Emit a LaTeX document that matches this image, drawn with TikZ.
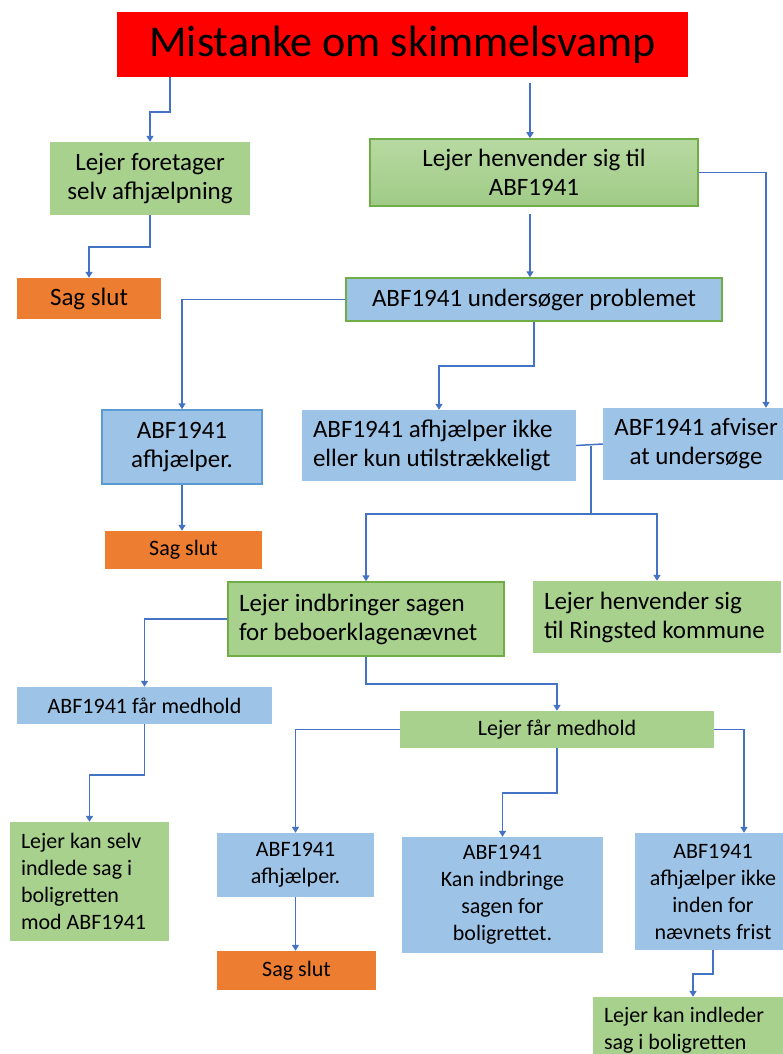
\documentclass[tikz,border=0pt]{standalone}
\usepackage{fontspec}
\setmainfont{Carlito}
\usetikzlibrary{arrows.meta}
\definecolor{boxred}{HTML}{FF0000}
\definecolor{boxgreen}{HTML}{A9D18E}
\definecolor{lightgreen}{HTML}{B7D9A2}
\definecolor{darkgreen}{HTML}{A0CB86}
\definecolor{edgegreen}{HTML}{70AD47}
\definecolor{boxblue}{HTML}{9DC3E6}
\definecolor{edgeblue}{HTML}{5B9BD5}
\definecolor{boxorange}{HTML}{ED7D31}
\definecolor{linkblue}{HTML}{4472C4}
\tikzset{
  big/.style={font=\fontsize{25}{29}\selectfont},
  small/.style={font=\fontsize{22}{27}\selectfont},
  wh/.style 2 args={minimum width=#1pt,minimum height=#2pt},
  gbox/.style={fill=boxgreen,inner sep=0pt,align=center},
  bbox/.style={fill=boxblue,inner sep=0pt,align=center},
  obox/.style={fill=boxorange,inner sep=0pt,align=center},
  leftbox/.style={align=flush left,inner xsep=11pt,text width=#1pt},
  conn/.style={linkblue,line width=1.5pt,-{Triangle[width=7pt,length=6pt]}},
  link/.style={linkblue,line width=1.5pt}
}

\begin{document}
\begin{tikzpicture}[x=1pt,y=-1pt]
\fill[white] (0,0) rectangle (782,1054);
\useasboundingbox (0,0) rectangle (782,1054);

% top
\node[fill=boxred,wh={571}{65},font=\fontsize{44}{50}\selectfont] (title) at (402.5,44.5) {Mistanke om skimmelsvamp};
\node[gbox,big,wh={200}{73}] (foretager) at (150,178.5) {Lejer foretager\\selv afhjælpning};
\node[gbox,big,wh={328}{67},top color=lightgreen,bottom color=darkgreen,draw=edgegreen,line width=1.5pt] (henvender) at (534,172.5) {Lejer henvender sig til\\ABF1941};
\node[obox,big,wh={144}{41}] (slut1) at (89,298.5) {Sag slut};
\node[bbox,big,wh={376}{43},draw=edgegreen,line width=1.5pt] (undersoeger) at (534,299.5) {ABF1941 undersøger problemet};

% middle
\node[bbox,big,wh={160}{74},draw=edgeblue,line width=1.5pt] (afhjaelper1) at (182,447) {ABF1941\\afhjælper.};
\node[bbox,big,wh={274}{71},leftbox=252] (ikke) at (439,445.5) {\mbox{ABF1941 afhjælper ikke}\\\mbox{eller kun utilstrækkeligt}};
\node[bbox,big,wh={186}{72}] (afviser) at (696,444) {ABF1941 afviser\\at undersøge};
\node[obox,small,wh={157}{38}] (slut2) at (183.5,550) {Sag slut};
\node[gbox,big,wh={276}{74},leftbox=254,draw=edgegreen,line width=1.5pt] (indbringer) at (366,619) {\mbox{Lejer indbringer sagen}\\\mbox{for beboerklagenævnet}};
\node[gbox,big,wh={248}{72},leftbox=226] (ringsted) at (657,617) {\mbox{Lejer henvender sig}\\\mbox{til Ringsted kommune}};

% bottom
\node[bbox,small,wh={255}{37}] (fbmedhold) at (144.5,705.5) {ABF1941 får medhold};
\node[gbox,small,wh={314}{37}] (lfmedhold) at (557,729.5) {Lejer får medhold};
\node[gbox,small,wh={159}{119},leftbox=137] (selv) at (89.5,881.5) {\mbox{Lejer kan selv}\\\mbox{indlede sag i}\\\mbox{boligretten}\\\mbox{mod ABF1941}};
\node[bbox,small,wh={157}{64}] (afhjaelper2) at (295.5,865) {ABF1941\\afhjælper.};
\node[obox,small,wh={159}{39}] (slut3) at (296.5,970.5) {Sag slut};
\node[bbox,small,wh={201}{116}] (boligrettet) at (502.5,895) {ABF1941\\Kan indbringe\\sagen for\\boligrettet.};
\node[bbox,small,wh={156}{117}] (frist) at (713,891.5) {ABF1941\\afhjælper ikke\\inden for\\nævnets frist};
\node[gbox,small,wh={200}{66},leftbox=178] (indleder) at (693,1030) {\mbox{Lejer kan indleder}\\\mbox{sag i boligretten}};

% connectors
\draw[conn] ([xshift=-232.5pt]title.south) -- ++(0,35) -| (foretager.north);
\draw[conn,shorten <=6pt] ([xshift=-4pt]henvender.north |- title.south) -- ([xshift=-4pt]henvender.north);
\draw[conn] (henvender.east) -| ([xshift=70pt]afviser.north);
\draw[conn] (foretager.south) -- ++(0,32) -| (slut1.north);
\draw[conn,shorten <=7pt] ([xshift=-4pt]henvender.south) -- ([xshift=-4pt]henvender.south |- undersoeger.north);
\draw[conn] (undersoeger.west) -| (afhjaelper1.north);
\draw[conn] (undersoeger.south) -- ++(0,44) -| (ikke.north);
\draw[conn] (afhjaelper1.south) -- (afhjaelper1.south |- slut2.north);
\coordinate (split) at (591,514);
\draw[link] (ikke.east) -- (afviser.west);
\draw[link] (ikke.east -| split) -- (split);
\draw[conn] (split) -| (indbringer.north);
\draw[conn] (split) -| (ringsted.north);
\draw[conn] (indbringer.west) -| (fbmedhold.north);
\draw[conn] (indbringer.south) -- ++(0,27) -| (lfmedhold.north);
\draw[conn] (fbmedhold.south) -- ++(0,51) -| (selv.north);
\draw[conn] (lfmedhold.west) -| (afhjaelper2.north);
\draw[conn] (afhjaelper2.south) -- (afhjaelper2.south |- slut3.north);
\draw[conn] (lfmedhold.south) -- ++(0,45) -| (boligrettet.north);
\draw[conn] (lfmedhold.east) -| ([xshift=31pt]frist.north);
\draw[conn] (frist.south) -- ++(0,24) -| (indleder.north);
\end{tikzpicture}
\end{document}
